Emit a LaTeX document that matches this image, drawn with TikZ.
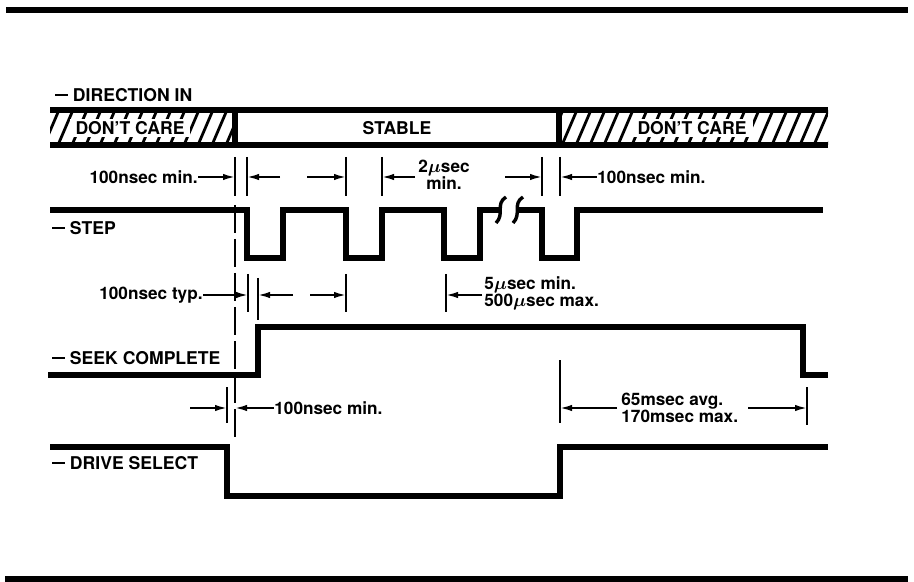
\documentclass[tikz,border=0pt]{standalone}
\usepackage{amsmath}
\usepackage{fontspec}
\setmainfont{TeX Gyre Heros}
\usetikzlibrary{arrows.meta, positioning}
\newcommand{\activelow}{\rule[0.32em]{0.72em}{0.1em}}
\tikzset{
  % heavy rules and waveforms
  rule/.style={line width=2.6pt},
  wave/.style={line width=2.6pt, line join=miter},
  % hatching of the don't care parts
  hatch/.style={line width=1.4pt},
  hatchtext/.style={fill=white, inner xsep=3pt, inner ysep=1pt, font=\fontsize{8.8}{10}\selectfont\bfseries},
  % signal names
  siglabel/.style={anchor=west, inner sep=0pt, font=\fontsize{8.8}{10}\selectfont\bfseries},
  % timing texts
  timelabel/.style={inner sep=0pt, align=left, font=\fontsize{8.6}{8.5}\selectfont\bfseries},
  % tick marks and dimension arrows
  tick/.style={line width=0.9pt},
  dimarr/.style={-{Latex[length=6pt,width=3.2pt]}, line width=0.9pt},
  refline/.style={line width=0.9pt, dash pattern=on 14pt off 3pt},
  breakmark/.style={line width=1.7pt},
}
\begin{document}
\begin{tikzpicture}[x=0.5pt, y=-0.5pt]
  \useasboundingbox (0,0) rectangle (914,582);

  % frame
  \coordinate (topL) at (6,10);  \coordinate (topR) at (908,10);
  \coordinate (botL) at (5,579); \coordinate (botR) at (908,579);
  \draw[rule] (topL) -- (topR);
  \draw[rule] (botL) -- (botR);

  % signal names
  \node[siglabel] (dirIn)  at (55,95)  {\activelow\ DIRECTION IN};
  \node[siglabel] (step)   at (52,228) {\activelow\ STEP};
  \node[siglabel] (seek)   at (52,358) {\activelow\ SEEK COMPLETE};
  \node[siglabel] (drvSel) at (52,463) {\activelow\ DRIVE SELECT};

  % direction bus
  \begin{scope}
    \clip (50,110) rectangle (233,145) (561,110) rectangle (828,145);
    \foreach \x in {30,44,...,830}
      \draw[hatch] (\x,145) -- ++(15,-35);
  \end{scope}
  \node[hatchtext] (dcLeft)  at (130,128) {DON'T CARE};
  \node[hatchtext] (dcRight) at (692,128) {DON'T CARE};
  \node[hatchtext, fill=none] (stable) at (397,128) {STABLE};
  \draw[wave] (50,110) -- (828,110) (50,145) -- (828,145)
              (235,110) -- (235,145) (559,110) -- (559,145);

  % step pulses
  \draw[wave] (50,210) -- (247,210) -- (247,258) -- (283,258) -- (283,210)
              -- (346,210) -- (346,258) -- (382,258) -- (382,210)
              -- (444,210) -- (444,258) -- (480,258) -- (480,210) -- (500,210);
  \draw[wave] (516,210) -- (542,210) -- (542,258) -- (577,258) -- (577,210) -- (823,210);
  \draw[breakmark] (496,223) .. controls (505,214) and (495,204) .. (506,197);
  \draw[breakmark] (513,223) .. controls (522,214) and (512,204) .. (523,197);

  % seek complete
  \draw[wave] (48,375) -- (258,375) -- (258,327) -- (803,327) -- (803,375) -- (828,375);

  % drive select
  \draw[wave] (50,447) -- (227,447) -- (227,496) -- (560,496) -- (560,447) -- (828,447);

  % reference line
  \draw[refline] (235,205) -- (235,440);

  % step timing
  \foreach \x in {235,247,346,382,542,560}
    \draw[tick] (\x,157) -- (\x,196);
  \coordinate (p1) at (235,177); \coordinate (p2) at (247,177);
  \coordinate (p3) at (346,177); \coordinate (p4) at (382,177);
  \coordinate (p5) at (542,177); \coordinate (p6) at (560,177);
  \coordinate (q1) at (280,177); \coordinate (q2) at (307,177);
  \coordinate (q3) at (415,177); \coordinate (q4) at (505,177);
  \node[timelabel, anchor=east] (dirSetup) at (198,177) {100nsec min.};
  \node[timelabel, align=center] (period) at (444,175) {2$\boldsymbol{\mu}$sec\\min.};
  \node[timelabel, anchor=west] (dirHold) at (597,177) {100nsec min.};
  \draw[dimarr] (dirSetup) -- (p1);
  \draw[dimarr] (q1) -- (p2);
  \draw[dimarr] (q2) -- (p3);
  \draw[dimarr] (q3) -- (p4);
  \draw[dimarr] (q4) -- (p5);
  \draw[dimarr] (dirHold) -- (p6);

  % seek complete timing
  \foreach \x in {248,346,446}
    \draw[tick] (\x,274) -- (\x,312);
  \draw[tick] (258,278) -- (258,320);
  \coordinate (s1) at (248,295); \coordinate (s2) at (258,295);
  \coordinate (s3) at (346,295); \coordinate (s4) at (446,295);
  \coordinate (u1) at (293,295); \coordinate (u2) at (310,295);
  \coordinate (u3) at (482,295);
  \node[timelabel, anchor=east] (seekDelay) at (203,295) {100nsec typ.};
  \node[timelabel, anchor=west] (stepRate) at (484,293) {5$\boldsymbol{\mu}$sec min.\\500$\boldsymbol{\mu}$sec max.};
  \draw[dimarr] (seekDelay) -- (s1);
  \draw[dimarr] (u1) -- (s2);
  \draw[dimarr] (u2) -- (s3);
  \draw[dimarr] (u3) -- (s4);

  % drive select timing
  \draw[tick] (227,387) -- (227,423);
  \draw[tick] (560,360) -- (560,423);
  \draw[tick] (807,387) -- (807,425);
  \coordinate (d1) at (190,408); \coordinate (d2) at (227,408);
  \coordinate (d3) at (235,408); \coordinate (d4) at (560,408);
  \coordinate (d5) at (807,408);
  \coordinate (e1) at (617,408); \coordinate (e2) at (748,408);
  \node[timelabel, anchor=west] (selSetup) at (274,408) {100nsec min.};
  \node[timelabel, anchor=west] (seekTime) at (621,408) {65msec avg.\\170msec max.};
  \draw[dimarr] (d1) -- (d2);
  \draw[dimarr] (selSetup) -- (d3);
  \draw[dimarr] (e1) -- (d4);
  \draw[dimarr] (e2) -- (d5);
\end{tikzpicture}
\end{document}
